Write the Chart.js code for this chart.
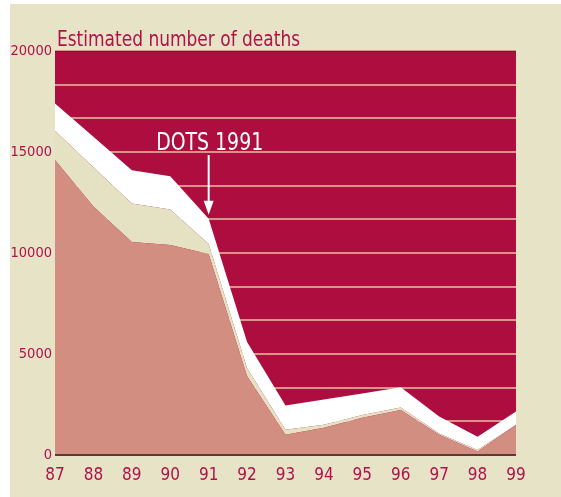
<!DOCTYPE html>
<html>
<head>
<meta charset="utf-8">
<script src="https://cdn.jsdelivr.net/npm/chart.js@4/dist/chart.umd.min.js"></script>
<style>
  body { margin: 0; background: #ffffff; }
  #panel { position: absolute; left: 10px; top: 4px; width: 551px; height: 493px; background: #e7e3c7; }
</style>
</head>
<body>
<div id="panel"><canvas id="deathsChart" width="551" height="493"></canvas></div>
<script>
// years along the bottom
const years = ['87', '88', '89', '90', '91', '92', '93', '94', '95', '96', '97', '98', '99'];

// estimated deaths, three boundaries of the estimate bands
const upperEstimate  = [17400, 15750, 14100, 13800, 11700, 5600, 2450, 2750, 3050, 3350, 1900, 900, 2150];
const middleEstimate = [16050, 14250, 12450, 12150, 10450, 4300, 1250, 1500, 1980, 2350, 1070, 250, 1500];
const lowerEstimate  = [14600, 12300, 10550, 10400, 9950, 3900, 1000, 1350, 1850, 2230, 1000, 170, 1480];

const yLabelStep = 5000;
const yGridStep = 20000 / 12;
const yMax = 20000;

const FONT = "'DejaVu Sans Condensed', 'Liberation Sans Narrow', 'DejaVu Sans', sans-serif";
const RED_TEXT = '#b0124a';

// draws text squeezed horizontally, like the condensed face of the original
function condensedText(ctx, text, x, y, size, sx, align) {
    ctx.save();
    ctx.font = size + 'px ' + FONT;
    ctx.textAlign = align;
    ctx.textBaseline = 'alphabetic';
    ctx.translate(x, y);
    ctx.scale(sx, 1);
    ctx.fillText(text, 0, 0);
    ctx.restore();
}

// crimson plot background + annotations
const decorations = {
    id: 'decorations',
    beforeDraw(chart) {
        const { ctx, chartArea: a } = chart;
        ctx.save();
        ctx.fillStyle = '#ad0d3f';
        ctx.fillRect(a.left, a.top, a.right - a.left, a.bottom - a.top);
        ctx.restore();
    },
    afterDatasetsDraw(chart) {
        const { ctx, chartArea: a, scales } = chart;
        ctx.save();
        // top and bottom rules
        ctx.strokeStyle = '#5a2a2a';
        ctx.lineWidth = 1;
        ctx.beginPath();
        ctx.moveTo(a.left, a.top + 0.5);
        ctx.lineTo(a.right, a.top + 0.5);
        ctx.stroke();
        ctx.strokeStyle = '#5b3b33';
        ctx.lineWidth = 2;
        ctx.beginPath();
        ctx.moveTo(a.left, a.bottom);
        ctx.lineTo(a.right, a.bottom);
        ctx.stroke();

        // axis title
        ctx.fillStyle = RED_TEXT;
        condensedText(ctx, 'Estimated number of deaths', a.left + 2, a.top - 5, 22, 0.86, 'left');

        // DOTS 1991 arrow
        const x = scales.x.getPixelForValue(4);
        const tip = scales.y.getPixelForValue(upperEstimate[4]) - 4;
        ctx.fillStyle = '#ffffff';
        ctx.strokeStyle = '#ffffff';
        condensedText(ctx, 'DOTS 1991', x + 1, 146, 25, 0.84, 'center');
        ctx.lineWidth = 2;
        ctx.beginPath();
        ctx.moveTo(x, 151);
        ctx.lineTo(x, tip - 12);
        ctx.stroke();
        ctx.beginPath();
        ctx.moveTo(x - 5, tip - 14);
        ctx.lineTo(x + 5, tip - 14);
        ctx.lineTo(x, tip);
        ctx.closePath();
        ctx.fill();
        ctx.restore();
    }
};

const ctx = document.getElementById('deathsChart').getContext('2d');
new Chart(ctx, {
    type: 'line',
    data: {
        labels: years,
        datasets: [
            { label: 'low', data: lowerEstimate, fill: 'origin', backgroundColor: '#d38e82' },
            { label: 'mid', data: middleEstimate, fill: '-1', backgroundColor: '#e5e1c3' },
            { label: 'high', data: upperEstimate, fill: '-1', backgroundColor: '#ffffff' }
        ].map(d => Object.assign(d, { borderWidth: 0, pointRadius: 0, tension: 0 }))
    },
    options: {
        responsive: false,
        animation: false,
        layout: { padding: { top: 47, right: 45, left: 0, bottom: 0 } },
        plugins: { legend: { display: false }, tooltip: { enabled: false } },
        scales: {
            x: {
                offset: false,
                grid: { display: false, drawTicks: false, tickLength: 0 },
                border: { display: false },
                ticks: { color: RED_TEXT, font: { family: FONT, size: 17 }, padding: 10, maxRotation: 0 },
                afterFit(scale) { scale.height = 42; }
            },
            y: {
                min: 0, max: yMax,
                grid: { display: false, drawTicks: false, tickLength: 0 },
                border: { display: false },
                ticks: {
                    stepSize: yLabelStep, color: RED_TEXT, font: { family: FONT, size: 14.5 }, padding: 3,
                    callback: v => String(v)
                },
                afterFit(scale) { scale.width = 45; }
            },
            yGrid: {
                position: 'right',
                min: 0, max: yMax,
                grid: { color: '#d7958a', lineWidth: 2, drawTicks: false },
                border: { display: false },
                ticks: { display: false, stepSize: yGridStep },
                afterFit(scale) { scale.width = 0; }
            }
        }
    },
    plugins: [decorations]
});
</script>
</body>
</html>
